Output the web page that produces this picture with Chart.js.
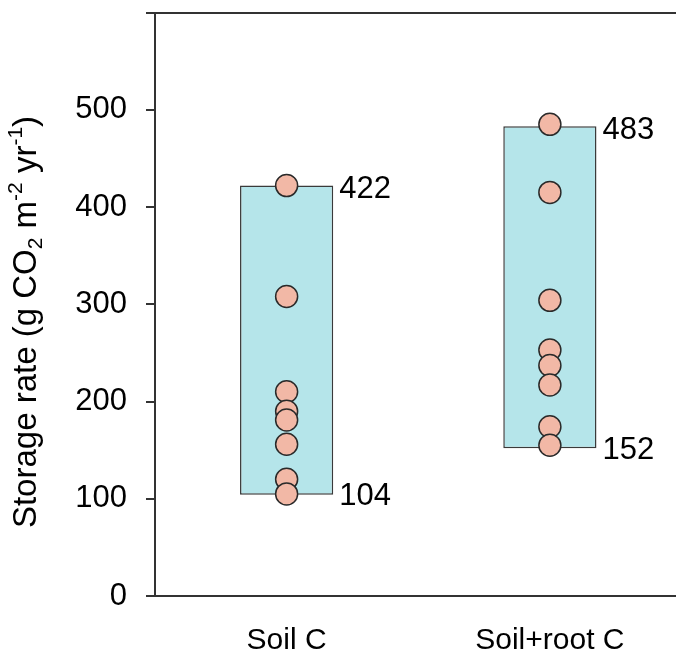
<!DOCTYPE html>
<html>
<head>
<meta charset="utf-8">
<script src="https://cdn.jsdelivr.net/npm/chart.js@4.4.1/dist/chart.umd.min.js"></script>
<style>
    html, body { margin: 0; padding: 0; background: #ffffff; overflow: hidden; }
    #wrap { width: 694px; height: 653px; }
</style>
</head>
<body>
<div id="wrap"><canvas id="storage-chart" width="694" height="653"></canvas></div>
<script>
// Categories and values
const categories = ['Soil C', 'Soil+root C'];
const rangeLow = [104, 152];
const rangeHigh = [422, 483];
const soilPoints = [422, 308, 210, 190, 181, 156, 120, 105];
const soilRootPoints = [485, 415, 304, 253, 237, 217, 174, 155];
const yTicks = [0, 100, 200, 300, 400, 500, 600];

const FONT = '"Liberation Sans", Arial, sans-serif';
const INK = '#333333';

// Build point list for the scatter overlay
const pointData = [];
soilPoints.forEach(v => pointData.push({ x: categories[0], y: v }));
soilRootPoints.forEach(v => pointData.push({ x: categories[1], y: v }));

/**
 * Min / max labels next to each box
 */
const rangeLabels = {
    id: 'rangeLabels',
    afterDatasetsDraw(chart) {
        const { ctx, scales } = chart;
        const meta = chart.getDatasetMeta(1);
        ctx.save();
        ctx.font = '31px ' + FONT;
        ctx.fillStyle = '#000000';
        ctx.textAlign = 'left';
        ctx.textBaseline = 'middle';
        meta.data.forEach((bar, i) => {
            const x = bar.x + bar.width / 2 + 6;
            ctx.fillText(String(rangeHigh[i]), x, scales.y.getPixelForValue(rangeHigh[i]) + 4);
            ctx.fillText(String(rangeLow[i]), x, scales.y.getPixelForValue(rangeLow[i]) + 2);
        });
        ctx.restore();
    }
};

/**
 * Rotated y title with sub- and superscripts
 */
const yTitle = {
    id: 'yTitle',
    afterDraw(chart) {
        const { ctx } = chart;
        const parts = [
            ['Storage rate (g CO', 0], ['2', 1], [' m', 0], ['-2', -1],
            [' yr', 0], ['-1', -1], [')', 0]
        ];
        const big = 33, small = 21;
        ctx.save();
        let total = 0;
        parts.forEach(p => {
            ctx.font = (p[1] === 0 ? big : small) + 'px ' + FONT;
            total += ctx.measureText(p[0]).width;
        });
        ctx.translate(27, 322);
        ctx.rotate(-Math.PI / 2);
        ctx.fillStyle = '#000000';
        ctx.textBaseline = 'middle';
        let x = -total / 2;
        parts.forEach(p => {
            ctx.font = (p[1] === 0 ? big : small) + 'px ' + FONT;
            const dy = p[1] === 1 ? 9 : (p[1] === -1 ? -11 : 0);
            ctx.fillText(p[0], x, dy);
            x += ctx.measureText(p[0]).width;
        });
        ctx.restore();
    }
};

new Chart(document.getElementById('storage-chart'), {
    data: {
        labels: categories,
        datasets: [
            {
                type: 'line',
                label: 'Sites',
                data: pointData,
                showLine: false,
                pointRadius: 11,
                pointBackgroundColor: '#f2b8a6',
                pointBorderColor: '#2a2a2a',
                pointBorderWidth: 1.5,
                order: 0
            },
            {
                type: 'bar',
                label: 'Range',
                data: categories.map((c, i) => [rangeLow[i], rangeHigh[i]]),
                backgroundColor: '#b5e5ea',
                borderColor: '#3a3a3a',
                borderWidth: 1.5,
                borderSkipped: false,
                barPercentage: 0.354,
                categoryPercentage: 1,
                order: 1
            }
        ]
    },
    options: {
        responsive: false,
        animation: false,
        layout: { padding: { top: 12, left: 0, right: 0, bottom: 0 } },
        scales: {
            x: {
                grid: { display: false, drawTicks: false },
                border: { display: true, color: INK, width: 2 },
                ticks: {
                    color: '#000000',
                    padding: 27,
                    font: { family: FONT, size: 30 }
                },
                afterFit(scale) {
                    scale.height = 57;
                    scale.paddingLeft = 0;
                    scale.paddingRight = 0;
                }
            },
            y: {
                min: 0,
                max: 600,
                afterBuildTicks(scale) { scale.ticks = yTicks.map(v => ({ value: v })); },
                grid: {
                    drawOnChartArea: true,
                    color: ctx => (ctx.tick && ctx.tick.value === 600 ? INK : 'rgba(0,0,0,0)'),
                    lineWidth: 2,
                    tickColor: INK,
                    tickLength: 9,
                    tickWidth: 2
                },
                border: { display: true, color: INK, width: 2 },
                ticks: {
                    color: '#000000',
                    padding: 19,
                    font: { family: FONT, size: 31 },
                    callback: v => (v === 600 ? '' : v)
                },
                afterFit(scale) {
                    scale.width = 155;
                    scale.paddingTop = 0;
                    scale.paddingBottom = 0;
                }
            }
        },
        plugins: {
            legend: { display: false },
            tooltip: { enabled: false }
        }
    },
    plugins: [rangeLabels, yTitle]
});
</script>
</body>
</html>
